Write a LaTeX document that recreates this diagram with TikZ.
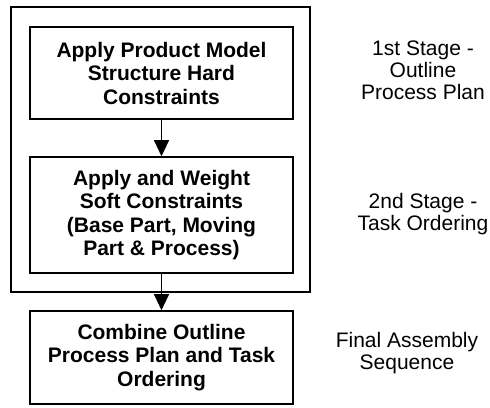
\documentclass[tikz,border=0pt]{standalone}
\usepackage{fontspec}
\setmainfont{Liberation Sans}
\usetikzlibrary{arrows.meta}

\begin{document}
\begin{tikzpicture}[x=1pt,y=-1pt,line width=1.6pt,>={Triangle[length=16pt,width=15pt]},
  stagebox/.style={draw,minimum width=263pt,inner sep=0pt,align=center,
    font=\fontsize{21}{23.5}\selectfont\bfseries},
  stagenote/.style={align=center,font=\fontsize{21}{22}\selectfont}]
\useasboundingbox (0,0) rectangle (490,407);
% ---------- outer frame of the first two stages ----------
\draw[line width=1.2pt] (11,7) rectangle (310,292);
% ---------- boxes ----------
\node[stagebox,minimum height=92pt] (hard) at (161.5,73)
  {Apply Product Model\\Structure Hard\\Constraints};
\node[stagebox,minimum height=116pt] (soft) at (161.5,215)
  {Apply and Weight\\Soft Constraints\\(Base Part, Moving\\Part \& Process)};
\node[stagebox,minimum height=93pt] (combine) at (161.5,357.5)
  {Combine Outline\\Process Plan and Task\\Ordering};
% ---------- arrows ----------
\draw[->,line width=1.2pt] (hard.south) -- (soft.north);
\draw[->,line width=1.2pt] (soft.south) -- (combine.north);
% ---------- stage notes ----------
\node[stagenote] (first) at (423,70) {1st Stage -\\Outline\\Process Plan};
\node[stagenote] (second) at (423,214) {2nd Stage -\\Task Ordering};
\node[stagenote] (final) at (407,353) {Final Assembly\\Sequence};
\end{tikzpicture}
\end{document}
